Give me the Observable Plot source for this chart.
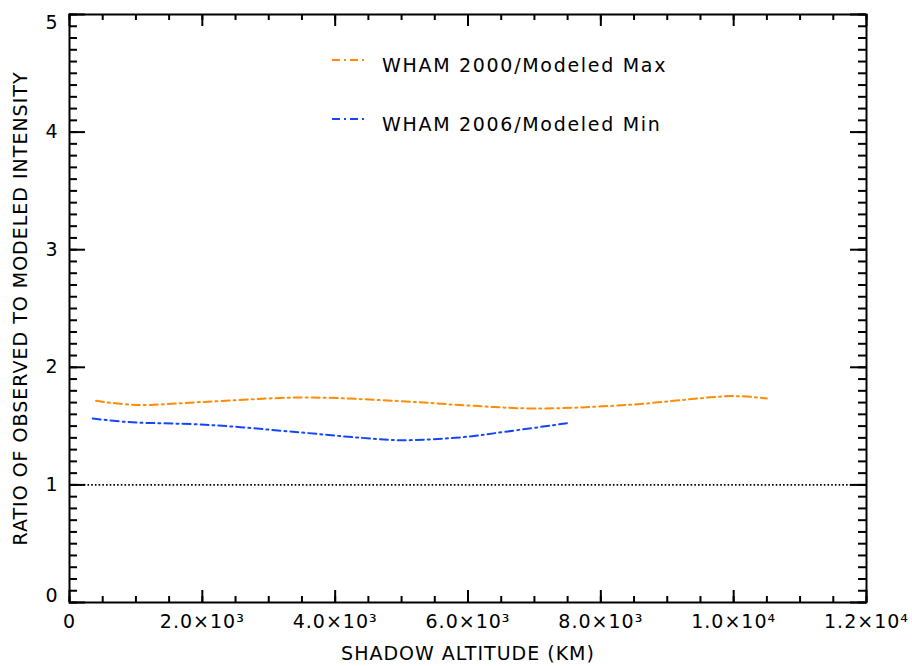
<!DOCTYPE html>
<html><head><meta charset="utf-8">
<script src="https://cdn.jsdelivr.net/npm/d3@7"></script>
<script src="https://cdn.jsdelivr.net/npm/@observablehq/plot@0.6"></script>
<style>html,body{margin:0;padding:0;background:#fff} svg{display:block}</style>
</head><body><div id="chart"></div>
<script>
// WHAM 2000 / Modeled Max
const maxAltitude = [400, 1000, 2000, 3500, 4900, 6000, 7000, 8400, 10000, 10500];
const maxRatio    = [1.715, 1.68, 1.705, 1.743, 1.715, 1.675, 1.65, 1.68, 1.755, 1.735];
// WHAM 2006 / Modeled Min
const minAltitude = [350, 870, 2100, 3400, 4400, 5000, 5900, 6600, 7500];
const minRatio    = [1.565, 1.535, 1.51, 1.45, 1.40, 1.38, 1.405, 1.455, 1.525];

const seriesNames  = ["WHAM 2000/Modeled Max", "WHAM 2006/Modeled Min"];
const seriesColors = ["#ff8c00", "#1446ff"];

const xMajorTicks = [0, 2000, 4000, 6000, 8000, 10000, 12000];
const xTickLabels = ["0", "2.0×10³", "4.0×10³", "6.0×10³", "8.0×10³", "1.0×10⁴", "1.2×10⁴"];
const xMinorTicks = d3.range(0, 12001, 500);
const yMajorTicks = [0, 1, 2, 3, 4, 5];
const yTickLabels = ["0", "1", "2", "3", "4", "5"];
const yMinorTicks = d3.range(0, 51, 1).map(d => d / 10);
const referenceRatio = [1];

const xTitle = "SHADOW ALTITUDE (KM)";
const yTitle = "RATIO OF OBSERVED TO MODELED INTENSITY";

const maxData = maxAltitude.map((x, i) => ({x, y: maxRatio[i]}));
const minData = minAltitude.map((x, i) => ({x, y: minRatio[i]}));

const W = 912, H = 666, mL = 69, mR = 46, mT = 14, mB = 64;
const innerW = W - mL - mR, innerH = H - mT - mB;
const dash = "8,4,2,4";
const fmtX = d => xTickLabels[xMajorTicks.indexOf(d)];
const fmtY = d => yTickLabels[yMajorTicks.indexOf(d)];

function legend(index, scales, values, dims) {
  const g = d3.create("svg:g");
  seriesNames.forEach((name, i) => {
    const y = dims.marginTop + 46 + i * 59;
    g.append("line")
      .attr("x1", dims.marginLeft + 263).attr("x2", dims.marginLeft + 295)
      .attr("y1", y).attr("y2", y)
      .attr("stroke", seriesColors[i]).attr("stroke-width", 2)
      .attr("stroke-dasharray", dash);
    g.append("text")
      .attr("x", dims.marginLeft + 313).attr("y", y + 12)
      .attr("fill", "black").attr("font-size", 19)
      .attr("text-anchor", "start")
      .style("letter-spacing", "1.7px")
      .text(name);
  });
  return g.node();
}

const chart = Plot.plot({
  width: W, height: H,
  marginLeft: mL, marginRight: mR, marginTop: mT, marginBottom: mB,
  style: {fontFamily: "DejaVu Sans", fontSize: "19px", color: "black", background: "white", letterSpacing: "1px"},
  x: {domain: [0, 12000], axis: null},
  y: {domain: [0, 5], axis: null},
  marks: [
    Plot.ruleY(referenceRatio, {stroke: "black", strokeWidth: 1.6, strokeDasharray: "1.6,2.1"}),
    Plot.line(maxData, {x: "x", y: "y", stroke: seriesColors[0], strokeWidth: 2, strokeDasharray: dash, curve: "catmull-rom"}),
    Plot.line(minData, {x: "x", y: "y", stroke: seriesColors[1], strokeWidth: 2, strokeDasharray: dash, curve: "catmull-rom"}),
    // ticks: bottom
    Plot.tickX(xMajorTicks, {x: d => d, insetTop: innerH - 12, strokeWidth: 2}),
    Plot.tickX(xMinorTicks, {x: d => d, insetTop: innerH - 6, strokeWidth: 2}),
    // ticks: top
    Plot.tickX(xMajorTicks, {x: d => d, insetBottom: innerH - 12, strokeWidth: 2}),
    Plot.tickX(xMinorTicks, {x: d => d, insetBottom: innerH - 6, strokeWidth: 2}),
    // ticks: left
    Plot.tickY(yMajorTicks, {y: d => d, insetRight: innerW - 16, strokeWidth: 2}),
    Plot.tickY(yMinorTicks, {y: d => d, insetRight: innerW - 8, strokeWidth: 2}),
    // ticks: right
    Plot.tickY(yMajorTicks, {y: d => d, insetLeft: innerW - 16, strokeWidth: 2}),
    Plot.tickY(yMinorTicks, {y: d => d, insetLeft: innerW - 8, strokeWidth: 2}),
    Plot.frame({stroke: "black", strokeWidth: 2}),
    // tick labels
    Plot.axisX({ticks: xMajorTicks, tickFormat: fmtX, tickSize: 0, tickPadding: 12, label: null, fontSize: 19}),
    Plot.axisY({ticks: yMajorTicks.slice(1, 5), tickFormat: fmtY, tickSize: 0, tickPadding: 11, label: null, fontSize: 19}),
    Plot.axisY({ticks: [yMajorTicks[5]], tickFormat: fmtY, tickSize: 0, tickPadding: 11, label: null, fontSize: 19, dy: 8}),
    Plot.axisY({ticks: [yMajorTicks[0]], tickFormat: fmtY, tickSize: 0, tickPadding: 11, label: null, fontSize: 19, dy: -7}),
    // titles
    Plot.text([xTitle], {frameAnchor: "bottom", dy: 51, text: d => d, fontSize: 19, lineAnchor: "middle", textAnchor: "middle"}),
    Plot.text([yTitle], {frameAnchor: "left", dx: -49, rotate: -90, text: d => d, fontSize: 19, lineAnchor: "middle", textAnchor: "middle"}),
    legend
  ]
});
document.getElementById("chart").appendChild(chart);
</script>
</body></html>
